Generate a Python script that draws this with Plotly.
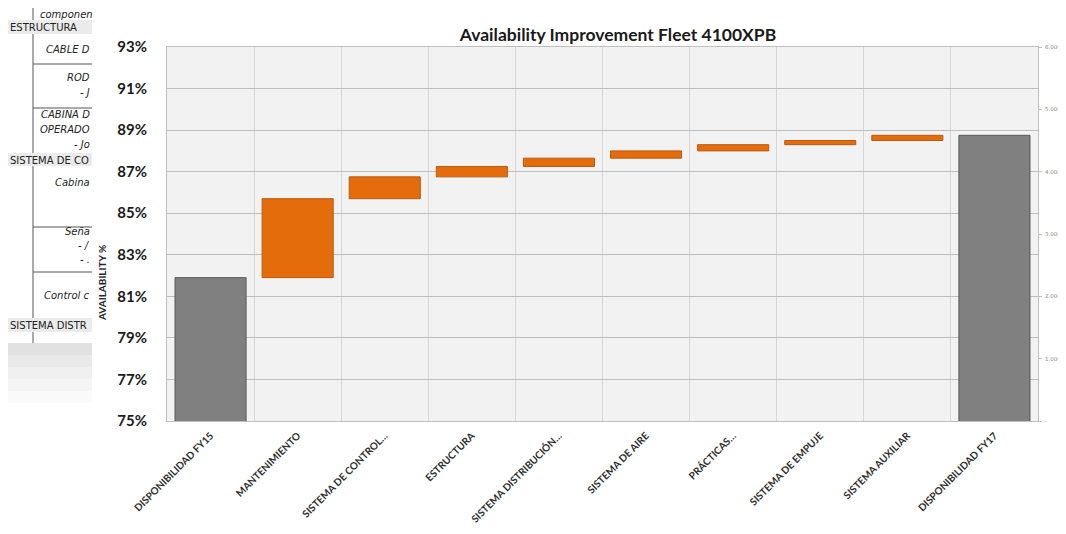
import numpy as np
import plotly.graph_objects as go

# ---------------- data ----------------
categories = ["DISPONIBILIDAD FY15", "MANTENIMIENTO", "SISTEMA DE CONTROL…", "ESTRUCTURA",
              "SISTEMA DISTRIBUCIÓN…", "SISTEMA DE AIRE", "PRÁCTICAS…", "SISTEMA DE EMPUJE",
              "SISTEMA AUXILIAR", "DISPONIBILIDAD FY17"]
start_value = 81.9
improvements = [3.8, 1.05, 0.5, 0.4, 0.35, 0.3, 0.2, 0.25]
end_value = 88.75
y_ticks = [75, 77, 79, 81, 83, 85, 87, 89, 91, 93]
y_tick_labels = ["75%", "77%", "79%", "81%", "83%", "85%", "87%", "89%", "91%", "93%"]
right_ticks = [0, 1000, 2000, 3000, 4000, 5000, 6000]
right_labels = ["-", "1.000", "2.000", "3.000", "4.000", "5.000", "6.000"]

# ---------------- geometry helpers (reference pixel -> paper) ----------------
OFF = 8                      # page body margin of the browser
WIN_W, WIN_H = 1066, 534
W, H = WIN_W - OFF, WIN_H - OFF - 2
L, R, T, B = 167, 1038, 47, 421
PW, PH = R - L, B - T
def px(x): return (x - L) / PW
def py(y): return (B - y) / PH

cum = start_value + np.cumsum(improvements)
bases = np.concatenate([[start_value], cum[:-1]])

fig = go.Figure()
fig.add_trace(go.Bar(
    x=[categories[0], categories[-1]], y=[start_value, end_value],
    marker=dict(color="#808080", line=dict(color="#595959", width=1)),
    width=0.816, showlegend=False, hoverinfo="x+y"))
fig.add_trace(go.Bar(
    x=categories[1:-1], y=improvements, base=bases,
    marker=dict(color="#E46C0A", line=dict(color="#B85A14", width=1)),
    width=0.816, showlegend=False))
# invisible trace to activate the secondary axis
fig.add_trace(go.Scatter(x=[categories[0]], y=[0], yaxis="y2", mode="markers",
                         marker=dict(opacity=0), showlegend=False, hoverinfo="skip"))

shapes = []
annotations = []
# --- background document (left fragments) ---
shapes.append(dict(type="rect", xref="paper", yref="paper", x0=px(0), x1=px(92), y0=py(343), y1=py(0),
                   fillcolor="white", line=dict(width=0), layer="below"))
for (y0, y1) in [(20, 34), (153, 166), (318, 332)]:
    shapes.append(dict(type="rect", xref="paper", yref="paper", x0=px(6), x1=px(92), y0=py(y1), y1=py(y0),
                       fillcolor="#EBEBEB", line=dict(width=0), layer="below"))
for (y0, y1) in [(0, 20), (34, 153), (166, 318), (332, 343)]:
    shapes.append(dict(type="line", xref="paper", yref="paper", x0=px(33), x1=px(33), y0=py(y0), y1=py(y1),
                       line=dict(color="#555555", width=1)))
for yy in [64, 108, 227, 272]:
    shapes.append(dict(type="line", xref="paper", yref="paper", x0=px(33), x1=px(92), y0=py(yy), y1=py(yy),
                       line=dict(color="#555555", width=1)))
# shadow below the document
for i, a in enumerate([0.22, 0.16, 0.11, 0.07, 0.04]):
    shapes.append(dict(type="rect", xref="paper", yref="paper", x0=px(0), x1=px(92),
                       y0=py(343 + 12 * (i + 1)), y1=py(343 + 12 * i),
                       fillcolor=f"rgba(120,120,120,{a})", line=dict(width=0), layer="below"))

doc_font = dict(family="DejaVu Sans", size=10, color="#222222")
def doc_text(x, y, t, anchor="left", italic=False):
    annotations.append(dict(xref="paper", yref="paper", x=px(x), y=py(y), text=(f"<i>{t}</i>" if italic else t),
                            showarrow=False, xanchor=anchor, yanchor="middle", font=dict(doc_font)))
doc_text(38, 14, "componen", italic=True)
doc_text(8, 27, "ESTRUCTURA")
doc_text(92, 49, "CABLE D", "right", True)
doc_text(92, 77, "ROD", "right", True)
doc_text(92, 92, "- J", "right", True)
doc_text(92, 115, "CABINA D", "right", True)
doc_text(92, 129, "OPERADO", "right", True)
doc_text(92, 144, "- Jo", "right", True)
doc_text(8, 160, "SISTEMA DE CO")
doc_text(92, 182, "Cabina", "right", True)
doc_text(92, 231, "Seña", "right", True)
doc_text(92, 245, "- /", "right", True)
doc_text(92, 259, "- .", "right", True)
doc_text(92, 295, "Control c", "right", True)
doc_text(8, 325, "SISTEMA DISTR")

# y-axis title
annotations.append(dict(xref="paper", yref="paper", x=px(102), y=py(283), text="<b>AVAILABILITY %</b>",
                        textangle=-90, showarrow=False, xanchor="center", yanchor="middle",
                        font=dict(family="Lato", size=10, color="#262626")))

fig.update_layout(
    width=W, height=H,
    margin=dict(l=L - OFF, r=WIN_W - R, t=T - OFF, b=(H + OFF) - B, pad=0, autoexpand=False),
    paper_bgcolor="white", plot_bgcolor="#F2F2F2",
    barmode="overlay",
    title=dict(text="<b>Availability Improvement Fleet 4100XPB</b>", x=(618 - OFF) / W, xanchor="center",
               y=1 - (35 - OFF) / H, yanchor="middle", font=dict(family="Lato", size=17.5, color="#1A1A1A")),
    xaxis=dict(type="category", categoryorder="array", categoryarray=categories,
               tickson="boundaries", showgrid=True, gridcolor="#D6D6D6", gridwidth=1,
               showline=True, linecolor="#BFBFBF", linewidth=1, mirror=True,
               ticks="", tickangle=-45, ticklabelstandoff=4,
               tickfont=dict(family="Lato", size=10, color="#2E2E2E", weight="bold"),
               range=[-0.5, 9.5], fixedrange=True),
    yaxis=dict(range=[75, 93], tickmode="array", tickvals=y_ticks, ticktext=y_tick_labels, showgrid=True,
               gridcolor="#BDBDBD", gridwidth=1, zeroline=False,
               showline=True, linecolor="#BFBFBF", linewidth=1, mirror=True,
               ticks="", ticklabelstandoff=16,
               tickfont=dict(family="Lato", size=15, color="#1A1A1A", weight="bold")),
    yaxis2=dict(overlaying="y", side="right", range=[0, 6000], tickmode="array", tickvals=right_ticks,
                ticktext=right_labels, showgrid=False, zeroline=False, ticks="outside", ticklen=3,
                tickcolor="#BFBFBF", ticklabelstandoff=2,
                tickfont=dict(family="DejaVu Sans", size=5.5, color="#8C8C8C")),
    shapes=shapes, annotations=annotations,
)

fig.write_html("out.html")
